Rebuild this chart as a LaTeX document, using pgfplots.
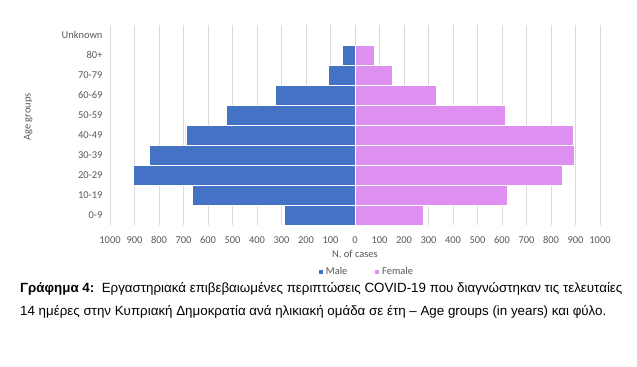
\documentclass[border=0pt]{standalone}
\usepackage{pgfplots}
\pgfplotsset{compat=1.18}
\usepackage{fontspec}
\setmainfont{Carlito}
\newfontfamily\capfont{Liberation Sans}
\definecolor{male}{HTML}{4472C4}
\definecolor{female}{HTML}{DF8FF0}
\definecolor{txt}{HTML}{595959}
\definecolor{gridc}{HTML}{D9D9D9}
\begin{document}
\begin{tikzpicture}[x=1bp,y=1bp]
\path[use as bounding box,fill=white] (0,0) rectangle (637,-366);
\begin{axis}[
  at={(110bp,-225bp)}, anchor=south west,
  scale only axis, width=490bp, height=200bp,
  xbar stacked, bar width=1,
  xmin=-1000, xmax=1000, ymin=-0.5, ymax=9.5,
  axis line style={draw=none},
  tick style={draw=none},
  xtick={-1000,-900,...,1000},
  xticklabels={1000,900,800,700,600,500,400,300,200,100,0,100,200,300,400,500,600,700,800,900,1000},
  ytick={0,...,9},
  yticklabels={0-9,10-19,20-29,30-39,40-49,50-59,60-69,70-79,80+,Unknown},
  xmajorgrids=true, ymajorgrids=false,
  major grid style={draw=gridc, line width=0.75bp},
  ticklabel style={font=\fontsize{10.5}{12}\selectfont, text=txt},
  xticklabel style={yshift=-8bp},
  yticklabel style={xshift=-4bp},
  xlabel={N. of cases}, xlabel style={font=\fontsize{10.5}{12}\selectfont, text=txt},
  ylabel={Age groups}, ylabel style={font=\fontsize{10.5}{12}\selectfont, text=txt, at={(axis description cs:-0.167,0.54)}, anchor=center},
  legend style={at={(axis description cs:0.418,-0.2)}, anchor=north west, draw=none, legend columns=2,
    font=\fontsize{10.5}{12}\selectfont, text=txt, yshift=2bp,
    /tikz/every even column/.append style={column sep=25bp}},
  legend image code/.code={\fill[#1] (0bp,-2.5bp) rectangle (5bp,2.5bp);},
]
\addplot[fill=male, draw=white, line width=0.8bp] coordinates {
(-288,0) (-663,1) (-903,2) (-839,3) (-690,4) (-523,5) (-326,6) (-110,7) (-52,8) (0,9)};
\addlegendentry{Male}
\addplot[fill=female, draw=white, line width=0.8bp] coordinates {
(278,0) (623,1) (846,2) (896,3) (892,4) (614,5) (333,6) (153,7) (81,8) (0,9)};
\addlegendentry{Female}
\end{axis}
\node[anchor=base west, inner sep=0pt, font=\capfont\fontsize{13.4}{15}\selectfont] at (20,-292)
  {\textbf{Γράφημα 4:}\ \ Εργαστηριακά επιβεβαιωμένες περιπτώσεις COVID-19 που διαγνώστηκαν τις τελευταίες};
\node[anchor=base west, inner sep=0pt, font=\capfont\fontsize{13.4}{15}\selectfont] at (20,-315)
  {14 ημέρες στην Κυπριακή Δημοκρατία ανά ηλικιακή ομάδα σε έτη – Age groups (in years) και φύλο.};
\end{tikzpicture}
\end{document}
